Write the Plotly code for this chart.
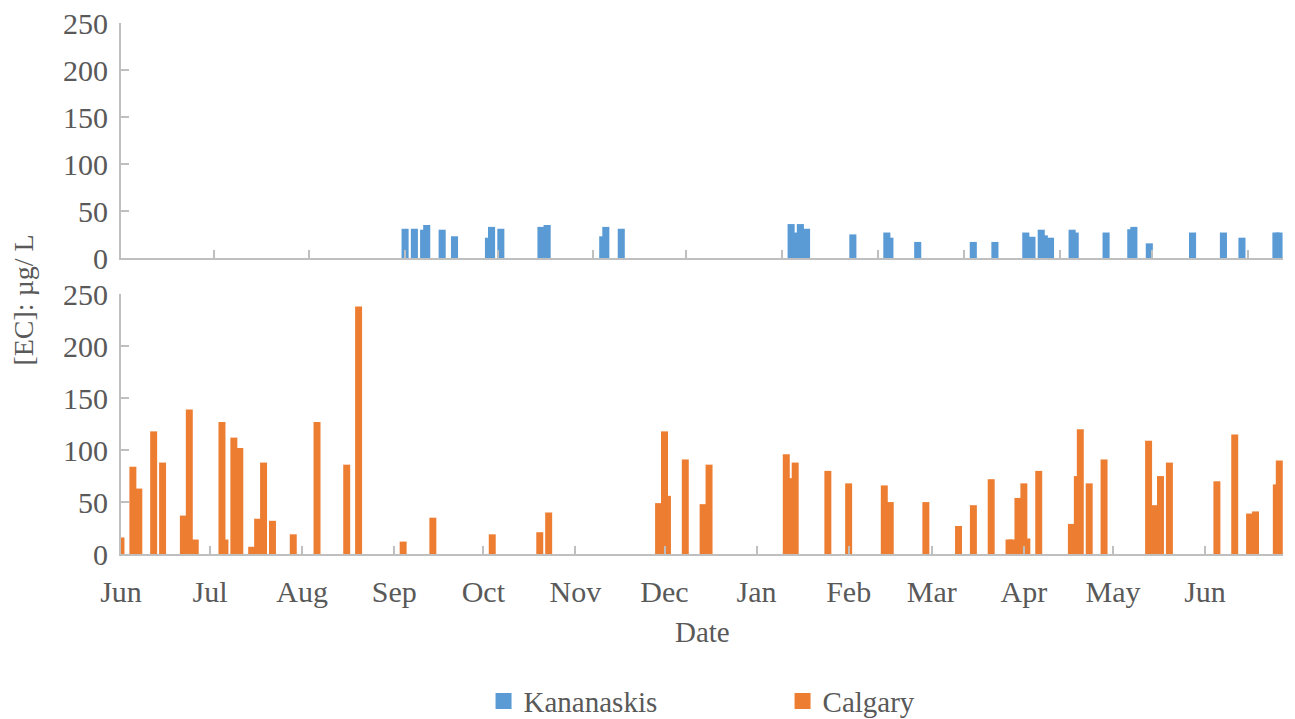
import plotly.graph_objects as go

# ---------------- data ----------------
kananaskis_dates = [
    "2012-09-01", "2012-09-04", "2012-09-07", "2012-09-08", "2012-09-13", "2012-09-17",
    "2012-09-28", "2012-09-29", "2012-10-02", "2012-10-15", "2012-10-17",
    "2012-11-04", "2012-11-05", "2012-11-10",
    "2013-01-04", "2013-01-06", "2013-01-07", "2013-01-09", "2013-01-24",
    "2013-02-04", "2013-02-05", "2013-02-14",
    "2013-03-04", "2013-03-11", "2013-03-21", "2013-03-23", "2013-03-26", "2013-03-27", "2013-03-29",
    "2013-04-05", "2013-04-06", "2013-04-16", "2013-04-24", "2013-04-25", "2013-04-30",
    "2013-05-14", "2013-05-24", "2013-05-30", "2013-06-10", "2013-06-11",
]
kananaskis_values = [
    29, 29, 28, 33, 28, 21,
    19.5, 31, 29, 31, 33,
    21, 31, 29,
    34, 25, 34, 29, 23,
    25, 19.5, 15,
    15, 15, 25, 20.5, 28, 22, 19.5,
    28, 25, 25, 28.5, 31, 13.5,
    25, 25, 19.5, 25, 25,
]

calgary_dates = [
    "2012-06-01", "2012-06-05", "2012-06-07", "2012-06-12", "2012-06-15", "2012-06-22",
    "2012-06-24", "2012-06-26", "2012-07-05", "2012-07-06", "2012-07-09", "2012-07-11",
    "2012-07-15", "2012-07-17", "2012-07-19", "2012-07-22", "2012-07-29",
    "2012-08-06", "2012-08-16", "2012-08-20",
    "2012-09-04", "2012-09-14", "2012-10-04", "2012-10-20", "2012-10-23",
    "2012-11-29", "2012-12-01", "2012-12-02", "2012-12-08", "2012-12-14", "2012-12-16",
    "2013-01-11", "2013-01-12", "2013-01-14", "2013-01-25", "2013-02-01",
    "2013-02-13", "2013-02-15", "2013-02-27",
    "2013-03-10", "2013-03-15", "2013-03-21", "2013-03-27", "2013-03-28", "2013-03-30",
    "2013-04-01", "2013-04-02", "2013-04-06", "2013-04-17", "2013-04-19", "2013-04-20",
    "2013-04-23", "2013-04-28",
    "2013-05-13", "2013-05-15", "2013-05-17", "2013-05-20",
    "2013-06-05", "2013-06-11", "2013-06-16", "2013-06-18", "2013-06-25", "2013-06-26",
]
calgary_values = [
    14, 82, 61, 116, 86, 35,
    137, 12, 125, 12, 110, 100,
    5, 32, 86, 30, 17,
    125, 84, 236,
    10, 33, 17, 19, 38,
    47, 116, 54, 89, 46, 84,
    94, 71, 86, 78, 66,
    64, 48, 48,
    25, 45, 70, 12, 12, 52,
    66, 13, 78, 27, 73, 118,
    66, 89,
    107, 45, 73, 86,
    68, 113, 37, 39, 65, 88,
]

series_names = ["Kananaskis", "Calgary"]
month_tick_start = "2012-06-01"
top_range = ["2012-06-01", "2013-06-12 07:00"]
bottom_range = ["2012-06-01", "2013-06-27 06:00"]
y_tick_values = [0, 50, 100, 150, 200, 250]

# ---------------- style ----------------
BLUE = "#5B9BD5"
ORANGE = "#ED7D31"
AXIS = "#BFBFBF"
TEXT = "#595959"
FONT = "Liberation Serif"
DAY_MS = 86400000

fig = go.Figure()
fig.add_trace(go.Bar(
    x=kananaskis_dates, y=kananaskis_values, name=series_names[0],
    xaxis="x2", yaxis="y2", width=DAY_MS,
    marker=dict(color=BLUE, line=dict(color=BLUE, width=4)),
))
fig.add_trace(go.Bar(
    x=calgary_dates, y=calgary_values, name=series_names[1],
    xaxis="x", yaxis="y", width=DAY_MS,
    marker=dict(color=ORANGE, line=dict(color=ORANGE, width=4)),
))

tickfont = dict(family=FONT, size=30, color=TEXT)
common_x = dict(type="date", tick0=month_tick_start, dtick="M1", ticks="inside",
                ticklen=8, tickwidth=1.5, tickcolor=AXIS, showline=True,
                linecolor=AXIS, linewidth=2, showgrid=False, zeroline=False,
                automargin=False, ticklabeloverflow="allow")
common_y = dict(range=[0, 250], tickvals=y_tick_values, ticks="inside", ticklen=8,
                tickwidth=1.5, tickcolor=AXIS, showline=True, linecolor=AXIS,
                linewidth=2, showgrid=False, zeroline=False, tickfont=tickfont,
                ticklabelstandoff=5, automargin=False, ticklabeloverflow="allow")

# the page body adds an 8 px offset, so the figure is 8 px smaller and shifted
fig.update_layout(
    width=1287, height=711,
    font=dict(family=FONT, size=29, color=TEXT),
    margin=dict(l=113, r=12, t=15, b=165, autoexpand=False),
    plot_bgcolor="white", paper_bgcolor="white",
    barmode="overlay", showlegend=True,
    xaxis=dict(domain=[0, 1], anchor="y", range=bottom_range, tickformat="%b",
               tickfont=tickfont, ticklabelstandoff=10, **common_x),
    yaxis=dict(domain=[0, 0.4896], anchor="x", **common_y),
    xaxis2=dict(domain=[0, 1], anchor="y2", range=top_range, showticklabels=False,
                **common_x),
    yaxis2=dict(domain=[0.5574, 1], anchor="x2", **common_y),
    legend=dict(orientation="h", x=0.312, xanchor="left", y=-0.277, yanchor="middle",
                font=dict(family=FONT, size=29, color=TEXT),
                entrywidth=254, entrywidthmode="pixels", traceorder="normal"),
    annotations=[
        dict(text="Date", xref="paper", yref="paper", x=0.5, y=-0.147,
             xanchor="center", yanchor="middle", showarrow=False,
             font=dict(family=FONT, size=29, color=TEXT)),
        dict(text="[EC]: µg/ L", xref="paper", yref="paper", x=-0.084, y=0.478,
             xanchor="center", yanchor="middle", textangle=-90, showarrow=False,
             font=dict(family=FONT, size=28, color=TEXT)),
    ],
)

fig.write_html("out.html")
